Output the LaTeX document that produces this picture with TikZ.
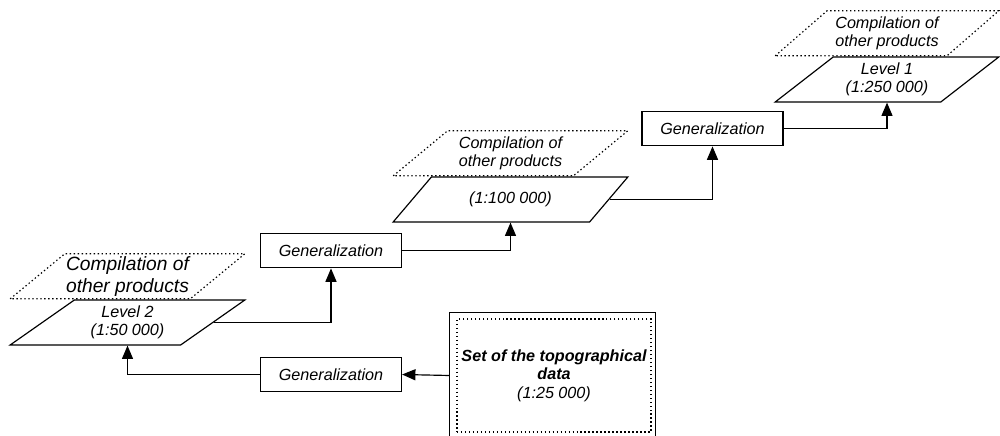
\documentclass[tikz,border=0pt]{standalone}
\usepackage{fontspec}
\setmainfont{Liberation Sans}
\usetikzlibrary{arrows.meta,positioning,shapes.geometric}
\tikzset{
  ar/.style={-{Triangle[length=4mm,width=3.3mm]},line width=1pt},
  txt/.style={font=\fontsize{13.8}{15.8}\selectfont\itshape,align=center},
  dots/.style={dash pattern=on 1.2pt off 2.2pt},
  genbox/.style={txt,draw,line width=1pt,minimum width=42.3mm,minimum height=10.4mm,inner sep=0pt},
  lvl/.style={txt,trapezium,trapezium left angle=37,trapezium right angle=143,
    trapezium stretches=true,minimum width=70.5mm,minimum height=13.5mm,inner sep=0pt,line width=1pt},
  lvbox/.style={lvl,draw},
  prod/.style={lvl,draw,dots},
  dsbox/.style={txt,draw,dots,line width=1pt,minimum width=58.2mm,minimum height=33.9mm,inner sep=0pt}
}
\begin{document}
\begin{tikzpicture}[x=0.3mm,y=0.3mm]
\useasboundingbox (0,0) rectangle (1000,435);
% levels of the product line
\node[lvbox] (lvtwo) at (127.5,112.5) {Level 2\\(1:50 000)};
\node[lvbox] (lvmid) at (510.5,235.5) {(1:100 000)};
\node[lvbox,minimum width=67.2mm] (lvone) at (887,355.5) {Level 1\\(1:250 000)};
\node[prod,font=\fontsize{16.4}{19}\selectfont\itshape,above=0pt of lvtwo] (prtwo) {Compilation of\\other products};
\node[prod,above=0pt of lvmid] (prmid) {Compilation of\\other products};
\node[prod,minimum width=67.2mm,above=0pt of lvone] (prone) {Compilation of\\other products};
% generalization steps
\node[genbox] (gen1) at (331,60.5) {Generalization};
\node[genbox] (gen2) at (331,184.5) {Generalization};
\node[genbox] (gen3) at (712.5,306.5) {Generalization};
% source data
\node[dsbox] (ds) at (554,59.5) {{\bfseries Set of the topographical}\\{\bfseries data}\\(1:25 000)};
\draw[line width=1pt] ([shift={(-7,-3)}]ds.south west) |- ([shift={(4,6)}]ds.north east)
  -- ([shift={(4,-3)}]ds.south east);
\draw[ar] ([shift={(-7,0)}]ds.west) -- (gen1.east);
\draw[ar] (gen1.west) -| (lvtwo.south);
\draw[ar] (lvtwo.east) -| (gen2.south);
\draw[ar] (gen2.east) -| (lvmid.south);
\draw[ar] (lvmid.east) -| (gen3.south);
\draw[ar] (gen3.east) -| (lvone.south);
\end{tikzpicture}
\end{document}
